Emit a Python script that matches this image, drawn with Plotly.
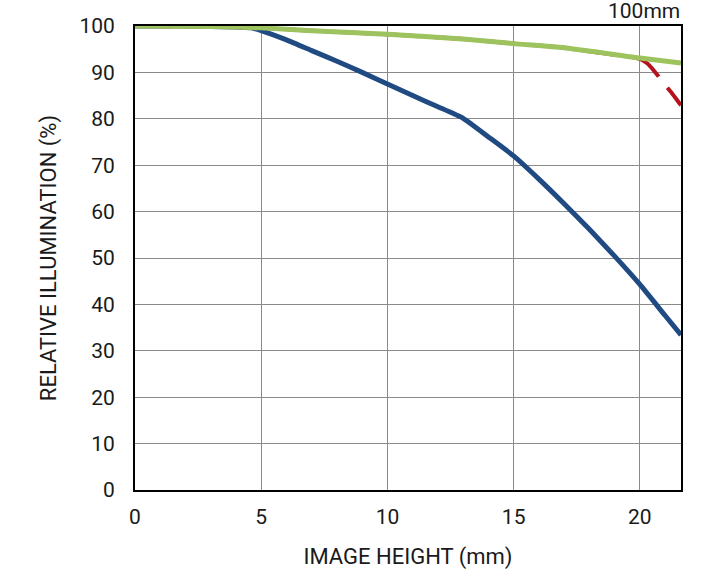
import plotly.graph_objects as go

# Image height (mm)
blue_x = [0, 2, 4, 4.6, 5, 6, 7, 8, 9, 10, 11, 12, 13, 14, 15, 16, 17, 18, 19, 20, 21, 21.63]
blue_y = [100, 100, 99.8, 99.6, 99.0, 97.0, 94.7, 92.4, 90.0, 87.5, 85.0, 82.6, 80.1, 76.1, 72.0, 67.0, 61.7, 56.2, 50.4, 44.3, 37.6, 33.4]

red_x = [0, 3, 5, 7, 10, 13, 15, 17, 19, 19.6, 20, 20.3, 20.6, 21.0, 21.3, 21.63]
red_y = [100, 99.9, 99.6, 99.0, 98.2, 97.2, 96.2, 95.3, 93.8, 93.4, 92.9, 91.9, 90.1, 87.3, 85.3, 82.9]

green_x = [0, 3, 5, 7, 10, 13, 15, 17, 20, 21.63]
green_y = [100, 99.9, 99.6, 99.0, 98.2, 97.2, 96.2, 95.3, 93.1, 92.0]

x_ticks = [0, 5, 10, 15, 20]
y_ticks = [0, 10, 20, 30, 40, 50, 60, 70, 80, 90, 100]

fig = go.Figure()
fig.add_trace(go.Scatter(x=blue_x, y=blue_y, mode="lines",
                         line=dict(color="#1f4a82", width=5, shape="spline", smoothing=0.5),
                         showlegend=False))
fig.add_trace(go.Scatter(x=red_x, y=red_y, mode="lines",
                         line=dict(color="#b5121b", width=4, dash="35.7px,14px", shape="spline", smoothing=0.5),
                         showlegend=False))
fig.add_trace(go.Scatter(x=green_x, y=green_y, mode="lines",
                         line=dict(color="#9dc35e", width=5, shape="spline", smoothing=0.5),
                         showlegend=False))

font_family = "Roboto, Arial, sans-serif"

fig.update_layout(
    width=720, height=570,
    margin=dict(l=135, r=39, t=26, b=80),
    paper_bgcolor="white", plot_bgcolor="white",
    font=dict(family=font_family, size=21, color="#1a1a1a"),
    xaxis=dict(range=[0, 21.63], tickvals=x_ticks, showgrid=True, gridcolor="#8a8a8a", gridwidth=1,
               showline=True, linecolor="black", linewidth=2, mirror=True, zeroline=False,
               automargin=False,
               ticks="", ticklen=0, ticklabelstandoff=7, tickfont=dict(size=21),
               title=dict(text="IMAGE HEIGHT (mm)", font=dict(size=22), standoff=20)),
    yaxis=dict(range=[0, 100], tickvals=y_ticks, showgrid=True, gridcolor="#8a8a8a", gridwidth=1,
               showline=True, linecolor="black", linewidth=2, mirror=True, zeroline=False,
               automargin=False,
               ticks="", ticklen=0, ticklabelstandoff=14, tickfont=dict(size=21),
               title=dict(text="RELATIVE ILLUMINATION (%)", font=dict(size=22), standoff=17)),
    annotations=[dict(text="100mm", xref="paper", yref="paper", x=1.0, y=1.0,
                      xanchor="right", yanchor="bottom", showarrow=False, yshift=1, xshift=1,
                      font=dict(size=21))],
)

fig.write_html("out.html", config={"displayModeBar": False},
               post_script="document.body.style.margin='0px';")
